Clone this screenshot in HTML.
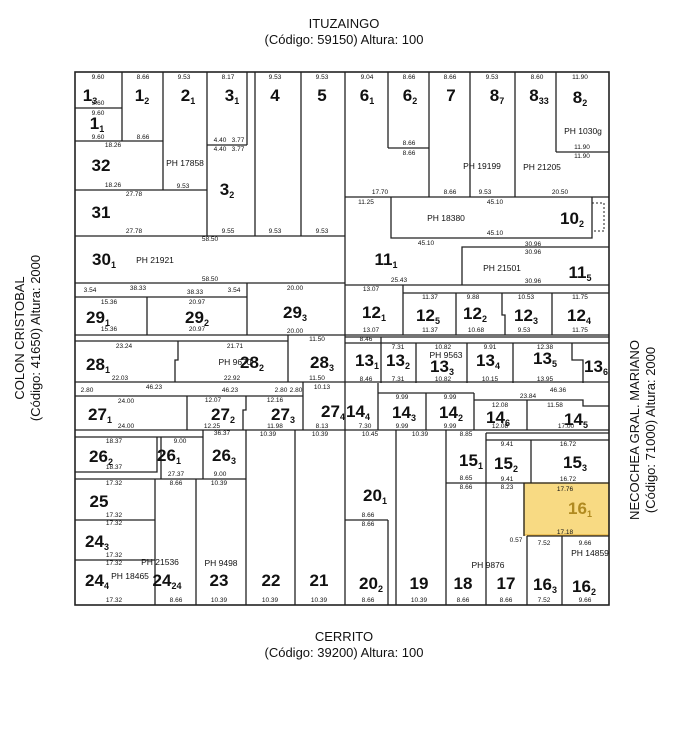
<!DOCTYPE html>
<html><head><meta charset="utf-8"><style>
html,body{margin:0;padding:0;background:#fff}
svg{display:block}
text{font-family:"Liberation Sans",sans-serif;fill:#111}
.h{font-size:13px;text-anchor:middle}
.l{font-size:17px;font-weight:bold;text-anchor:middle}
.l tspan{font-size:9px;font-weight:bold}
.d{font-size:6.5px;text-anchor:middle}
.p{font-size:8.5px;text-anchor:middle}
line,polyline,rect{stroke:#222;stroke-width:1.3;fill:none}
</style></head><body>
<svg width="687" height="736" viewBox="0 0 687 736" xmlns="http://www.w3.org/2000/svg">
<text class="h" x="344" y="28">ITUZAINGO</text>
<text class="h" x="344" y="44">(Código: 59150) Altura: 100</text>
<text class="h" x="344" y="641">CERRITO</text>
<text class="h" x="344" y="657">(Código: 39200) Altura: 100</text>
<text class="h" transform="translate(24,338) rotate(-90)">COLON CRISTOBAL</text>
<text class="h" transform="translate(40,338) rotate(-90)">(Código: 41650) Altura: 2000</text>
<text class="h" transform="translate(639,430) rotate(-90)">NECOCHEA GRAL. MARIANO</text>
<text class="h" transform="translate(655,430) rotate(-90)">(Código: 71000) Altura: 2000</text>

<rect x="524" y="483" width="85" height="52" style="fill:#f6cd5a;fill-opacity:.75;stroke:#e8b440"/>
<rect x="75" y="72" width="534" height="533" style="stroke-width:1.6"/>
<!-- top row -->
<line x1="75" y1="108" x2="122" y2="108"/>
<line x1="122" y1="72" x2="122" y2="141"/>
<line x1="75" y1="141" x2="163" y2="141"/>
<line x1="163" y1="72" x2="163" y2="190"/>
<line x1="75" y1="190" x2="207" y2="190"/>
<line x1="207" y1="72" x2="207" y2="236"/>
<line x1="207" y1="145" x2="247" y2="145"/>
<line x1="247" y1="72" x2="247" y2="145"/>
<line x1="255" y1="72" x2="255" y2="236"/>
<line x1="301" y1="72" x2="301" y2="236"/>
<line x1="75" y1="236" x2="345" y2="236"/>
<line x1="345" y1="72" x2="345" y2="605"/>
<line x1="388" y1="72" x2="388" y2="148"/>
<line x1="388" y1="148" x2="429" y2="148"/>
<line x1="429" y1="72" x2="429" y2="197"/>
<line x1="470" y1="72" x2="470" y2="197"/>
<line x1="515" y1="72" x2="515" y2="197"/>
<line x1="556" y1="72" x2="556" y2="152"/>
<line x1="556" y1="152" x2="609" y2="152"/>
<line x1="345" y1="197" x2="609" y2="197"/>
<polyline points="391,197 391,238 592,238 592,197"/>
<rect x="592" y="203" width="12" height="28" style="stroke-dasharray:2,2;stroke-width:1"/>
<polyline points="462,285 462,247 609,247"/>
<line x1="75" y1="283" x2="345" y2="283"/>
<line x1="345" y1="285" x2="609" y2="285"/>
<line x1="403" y1="293" x2="609" y2="293"/>
<line x1="403" y1="285" x2="403" y2="335"/>
<line x1="456" y1="293" x2="456" y2="335"/>
<polyline points="502,293 502,315 505,315 505,335"/>
<line x1="552" y1="293" x2="552" y2="335"/>
<!-- row 29 -->
<line x1="75" y1="297" x2="247" y2="297"/>
<line x1="147" y1="297" x2="147" y2="335"/>
<line x1="247" y1="283" x2="247" y2="335"/>
<line x1="75" y1="335" x2="609" y2="335"/>
<!-- row 28/13 -->
<line x1="75" y1="341" x2="288" y2="341"/>
<polyline points="178,341 178,360 175,360 175,382"/>
<line x1="288" y1="335" x2="288" y2="382"/>
<line x1="345" y1="337" x2="609" y2="337"/>
<line x1="345" y1="343" x2="609" y2="343"/>
<line x1="381" y1="337" x2="381" y2="383"/>
<line x1="416" y1="343" x2="416" y2="383"/>
<line x1="467" y1="343" x2="467" y2="383"/>
<line x1="513" y1="343" x2="513" y2="383"/>
<polyline points="572,343 572,360 583,360 583,383"/>
<line x1="75" y1="382" x2="609" y2="382"/>
<!-- row 27/14 -->
<line x1="75" y1="396" x2="303" y2="396"/>
<line x1="187" y1="396" x2="187" y2="430"/>
<polyline points="246,396 246,410 243,410 243,430"/>
<line x1="303" y1="382" x2="303" y2="430"/>
<line x1="378" y1="393" x2="474" y2="393"/>
<line x1="378" y1="383" x2="378" y2="430"/>
<line x1="426" y1="393" x2="426" y2="430"/>
<line x1="474" y1="393" x2="474" y2="430"/>
<polyline points="474,400 583,400 583,406 609,406"/>
<line x1="527" y1="400" x2="527" y2="430"/>
<line x1="75" y1="430" x2="609" y2="430"/>
<!-- row 26 -->
<line x1="75" y1="437" x2="203" y2="437"/>
<polyline points="157,437 157,472 75,472"/>
<line x1="75" y1="479" x2="246" y2="479"/>
<line x1="161" y1="437" x2="161" y2="479"/>
<line x1="203" y1="430" x2="203" y2="479"/>
<line x1="246" y1="430" x2="246" y2="605"/>
<line x1="295" y1="430" x2="295" y2="605"/>
<line x1="75" y1="520" x2="155" y2="520"/>
<line x1="75" y1="560" x2="155" y2="560"/>
<line x1="155" y1="479" x2="155" y2="605"/>
<line x1="196" y1="479" x2="196" y2="605"/>
<!-- 20/19/15 -->
<line x1="396" y1="430" x2="396" y2="605"/>
<line x1="345" y1="520" x2="388" y2="520"/>
<line x1="388" y1="520" x2="388" y2="605"/>
<line x1="446" y1="430" x2="446" y2="605"/>
<line x1="486" y1="433" x2="609" y2="433"/>
<line x1="486" y1="440" x2="609" y2="440"/>
<line x1="486" y1="433" x2="486" y2="605"/>
<line x1="531" y1="440" x2="531" y2="483"/>
<line x1="446" y1="483" x2="609" y2="483"/>
<line x1="524" y1="483" x2="524" y2="536"/>
<line x1="527" y1="536" x2="609" y2="536"/>
<line x1="527" y1="536" x2="527" y2="605"/>
<line x1="562" y1="536" x2="562" y2="605"/>

<!-- lot labels -->
<g>
<text class="l" x="90" y="101">1<tspan dy="3">3</tspan></text>
<text class="l" x="142" y="101">1<tspan dy="3">2</tspan></text>
<text class="l" x="188" y="101">2<tspan dy="3">1</tspan></text>
<text class="l" x="232" y="101">3<tspan dy="3">1</tspan></text>
<text class="l" x="275" y="101">4</text>
<text class="l" x="322" y="101">5</text>
<text class="l" x="367" y="101">6<tspan dy="3">1</tspan></text>
<text class="l" x="410" y="101">6<tspan dy="3">2</tspan></text>
<text class="l" x="451" y="101">7</text>
<text class="l" x="497" y="101">8<tspan dy="3">7</tspan></text>
<text class="l" x="539" y="101">8<tspan dy="3">33</tspan></text>
<text class="l" x="580" y="103">8<tspan dy="3">2</tspan></text>
<text class="l" x="97" y="129">1<tspan dy="3">1</tspan></text>
<text class="l" x="101" y="171">32</text>
<text class="l" x="101" y="218">31</text>
<text class="l" x="227" y="195">3<tspan dy="3">2</tspan></text>
<text class="l" x="572" y="224">10<tspan dy="3">2</tspan></text>
<text class="l" x="104" y="265">30<tspan dy="3">1</tspan></text>
<text class="l" x="386" y="265">11<tspan dy="3">1</tspan></text>
<text class="l" x="580" y="278">11<tspan dy="3">5</tspan></text>
<text class="l" x="98" y="323">29<tspan dy="3">1</tspan></text>
<text class="l" x="197" y="323">29<tspan dy="3">2</tspan></text>
<text class="l" x="295" y="318">29<tspan dy="3">3</tspan></text>
<text class="l" x="374" y="318">12<tspan dy="3">1</tspan></text>
<text class="l" x="428" y="321">12<tspan dy="3">5</tspan></text>
<text class="l" x="475" y="319">12<tspan dy="3">2</tspan></text>
<text class="l" x="526" y="321">12<tspan dy="3">3</tspan></text>
<text class="l" x="579" y="321">12<tspan dy="3">4</tspan></text>
<text class="l" x="98" y="370">28<tspan dy="3">1</tspan></text>
<text class="l" x="252" y="368">28<tspan dy="3">2</tspan></text>
<text class="l" x="322" y="368">28<tspan dy="3">3</tspan></text>
<text class="l" x="367" y="366">13<tspan dy="3">1</tspan></text>
<text class="l" x="398" y="366">13<tspan dy="3">2</tspan></text>
<text class="l" x="442" y="372">13<tspan dy="3">3</tspan></text>
<text class="l" x="488" y="366">13<tspan dy="3">4</tspan></text>
<text class="l" x="545" y="364">13<tspan dy="3">5</tspan></text>
<text class="l" x="596" y="372">13<tspan dy="3">6</tspan></text>
<text class="l" x="100" y="420">27<tspan dy="3">1</tspan></text>
<text class="l" x="223" y="420">27<tspan dy="3">2</tspan></text>
<text class="l" x="283" y="420">27<tspan dy="3">3</tspan></text>
<text class="l" x="333" y="417">27<tspan dy="3">4</tspan></text>
<text class="l" x="358" y="417">14<tspan dy="3">4</tspan></text>
<text class="l" x="404" y="418">14<tspan dy="3">3</tspan></text>
<text class="l" x="451" y="418">14<tspan dy="3">2</tspan></text>
<text class="l" x="498" y="423">14<tspan dy="3">6</tspan></text>
<text class="l" x="576" y="425">14<tspan dy="3">5</tspan></text>
<text class="l" x="101" y="462">26<tspan dy="3">2</tspan></text>
<text class="l" x="169" y="461">26<tspan dy="3">1</tspan></text>
<text class="l" x="224" y="461">26<tspan dy="3">3</tspan></text>
<text class="l" x="471" y="466">15<tspan dy="3">1</tspan></text>
<text class="l" x="506" y="469">15<tspan dy="3">2</tspan></text>
<text class="l" x="575" y="468">15<tspan dy="3">3</tspan></text>
<text class="l" x="99" y="507">25</text>
<text class="l" x="375" y="501">20<tspan dy="3">1</tspan></text>
<text class="l" x="580" y="514" style="fill:#b08a20">16<tspan dy="3">1</tspan></text>
<text class="l" x="97" y="547">24<tspan dy="3">3</tspan></text>
<text class="l" x="97" y="586">24<tspan dy="3">4</tspan></text>
<text class="l" x="167" y="586">24<tspan dy="3">24</tspan></text>
<text class="l" x="219" y="586">23</text>
<text class="l" x="271" y="586">22</text>
<text class="l" x="319" y="586">21</text>
<text class="l" x="371" y="589">20<tspan dy="3">2</tspan></text>
<text class="l" x="419" y="589">19</text>
<text class="l" x="463" y="589">18</text>
<text class="l" x="506" y="589">17</text>
<text class="l" x="545" y="590">16<tspan dy="3">3</tspan></text>
<text class="l" x="584" y="592">16<tspan dy="3">2</tspan></text>
</g>
<!-- PH labels -->
<g>
<text class="p" x="185" y="166">PH 17858</text>
<text class="p" x="482" y="169">PH 19199</text>
<text class="p" x="542" y="170">PH 21205</text>
<text class="p" x="583" y="134">PH 1030g</text>
<text class="p" x="446" y="221">PH 18380</text>
<text class="p" x="155" y="263">PH 21921</text>
<text class="p" x="502" y="271">PH 21501</text>
<text class="p" x="235" y="365">PH 9670</text>
<text class="p" x="446" y="358">PH 9563</text>
<text class="p" x="160" y="565">PH 21536</text>
<text class="p" x="221" y="566">PH 9498</text>
<text class="p" x="488" y="568">PH 9876</text>
<text class="p" x="130" y="579">PH 18465</text>
<text class="p" x="590" y="556">PH 14859</text>
</g>
<!-- dimension labels -->
<g class="d">
<text class="d" x="98" y="79">9.60</text><text class="d" x="143" y="79">8.66</text><text class="d" x="184" y="79">9.53</text><text class="d" x="228" y="79">8.17</text><text class="d" x="275" y="79">9.53</text><text class="d" x="322" y="79">9.53</text><text class="d" x="367" y="79">9.04</text><text class="d" x="409" y="79">8.66</text><text class="d" x="450" y="79">8.66</text><text class="d" x="492" y="79">9.53</text><text class="d" x="537" y="79">8.60</text><text class="d" x="580" y="79">11.90</text>
<text class="d" x="98" y="105">9.60</text><text class="d" x="98" y="115">9.60</text><text class="d" x="98" y="139">9.60</text><text class="d" x="143" y="139">8.66</text>
<text class="d" x="113" y="147">18.26</text><text class="d" x="113" y="187">18.26</text><text class="d" x="183" y="188">9.53</text>
<text class="d" x="134" y="196">27.78</text><text class="d" x="134" y="233">27.78</text><text class="d" x="228" y="233">9.55</text><text class="d" x="275" y="233">9.53</text><text class="d" x="322" y="233">9.53</text>
<text class="d" x="220" y="142">4.40</text><text class="d" x="238" y="142">3.77</text><text class="d" x="220" y="151">4.40</text><text class="d" x="238" y="151">3.77</text>
<text class="d" x="210" y="241">58.50</text><text class="d" x="210" y="281">58.50</text>
<text class="d" x="409" y="145">8.66</text><text class="d" x="409" y="155">8.66</text><text class="d" x="450" y="194">8.66</text><text class="d" x="485" y="194">9.53</text><text class="d" x="380" y="194">17.70</text><text class="d" x="560" y="194">20.50</text><text class="d" x="582" y="149">11.90</text><text class="d" x="582" y="158">11.90</text>
<text class="d" x="366" y="204">11.25</text><text class="d" x="495" y="204">45.10</text><text class="d" x="495" y="235">45.10</text><text class="d" x="426" y="245">45.10</text><text class="d" x="533" y="246">30.96</text><text class="d" x="533" y="254">30.96</text><text class="d" x="533" y="283">30.96</text><text class="d" x="399" y="282">25.43</text>
<text class="d" x="90" y="292">3.54</text><text class="d" x="138" y="290">38.33</text><text class="d" x="195" y="294">38.33</text><text class="d" x="234" y="292">3.54</text><text class="d" x="295" y="290">20.00</text><text class="d" x="295" y="333">20.00</text>
<text class="d" x="109" y="304">15.36</text><text class="d" x="109" y="331">15.36</text><text class="d" x="197" y="304">20.97</text><text class="d" x="197" y="331">20.97</text>
<text class="d" x="371" y="291">13.07</text><text class="d" x="371" y="332">13.07</text><text class="d" x="430" y="299">11.37</text><text class="d" x="430" y="332">11.37</text><text class="d" x="473" y="299">9.88</text><text class="d" x="476" y="332">10.68</text><text class="d" x="526" y="299">10.53</text><text class="d" x="524" y="332">9.53</text><text class="d" x="580" y="299">11.75</text><text class="d" x="580" y="332">11.75</text>
<text class="d" x="124" y="348">23.24</text><text class="d" x="120" y="380">22.03</text><text class="d" x="235" y="348">21.71</text><text class="d" x="232" y="380">22.92</text><text class="d" x="317" y="341">11.50</text><text class="d" x="317" y="380">11.50</text>
<text class="d" x="366" y="341">8.46</text><text class="d" x="366" y="381">8.46</text><text class="d" x="398" y="349">7.31</text><text class="d" x="398" y="381">7.31</text><text class="d" x="443" y="349">10.82</text><text class="d" x="443" y="381">10.82</text><text class="d" x="490" y="349">9.91</text><text class="d" x="490" y="381">10.15</text><text class="d" x="545" y="349">12.38</text><text class="d" x="545" y="381">13.95</text>
<text class="d" x="87" y="392">2.80</text><text class="d" x="154" y="389">46.23</text><text class="d" x="230" y="392">46.23</text><text class="d" x="281" y="392">2.80</text><text class="d" x="296" y="392">2.80</text><text class="d" x="322" y="389">10.13</text>
<text class="d" x="126" y="403">24.00</text><text class="d" x="126" y="428">24.00</text><text class="d" x="213" y="402">12.07</text><text class="d" x="212" y="428">12.25</text><text class="d" x="275" y="402">12.16</text><text class="d" x="275" y="428">11.98</text><text class="d" x="322" y="428">8.13</text>
<text class="d" x="365" y="428">7.30</text><text class="d" x="402" y="399">9.99</text><text class="d" x="402" y="428">9.99</text><text class="d" x="450" y="399">9.99</text><text class="d" x="450" y="428">9.99</text><text class="d" x="500" y="407">12.08</text><text class="d" x="500" y="428">12.08</text><text class="d" x="528" y="398">23.84</text><text class="d" x="558" y="392">46.36</text><text class="d" x="555" y="407">11.58</text><text class="d" x="566" y="428">17.00</text>
<text class="d" x="114" y="443">18.37</text><text class="d" x="114" y="469">18.37</text><text class="d" x="180" y="443">9.00</text><text class="d" x="176" y="476">27.37</text><text class="d" x="222" y="435">36.37</text><text class="d" x="220" y="476">9.00</text><text class="d" x="268" y="436">10.39</text><text class="d" x="320" y="436">10.39</text>
<text class="d" x="370" y="436">10.45</text><text class="d" x="420" y="436">10.39</text><text class="d" x="466" y="436">8.85</text><text class="d" x="507" y="446">9.41</text><text class="d" x="507" y="481">9.41</text><text class="d" x="568" y="446">16.72</text><text class="d" x="568" y="481">16.72</text><text class="d" x="466" y="480">8.65</text><text class="d" x="466" y="489">8.66</text><text class="d" x="507" y="489">8.23</text>
<text class="d" x="114" y="485">17.32</text><text class="d" x="114" y="517">17.32</text><text class="d" x="114" y="525">17.32</text><text class="d" x="114" y="557">17.32</text><text class="d" x="114" y="565">17.32</text><text class="d" x="114" y="602">17.32</text><text class="d" x="176" y="485">8.66</text><text class="d" x="219" y="485">10.39</text>
<text class="d" x="176" y="602">8.66</text><text class="d" x="219" y="602">10.39</text><text class="d" x="270" y="602">10.39</text><text class="d" x="319" y="602">10.39</text><text class="d" x="368" y="602">8.66</text><text class="d" x="419" y="602">10.39</text><text class="d" x="463" y="602">8.66</text><text class="d" x="506" y="602">8.66</text><text class="d" x="544" y="602">7.52</text><text class="d" x="585" y="602">9.66</text>
<text class="d" x="368" y="517">8.66</text><text class="d" x="368" y="526">8.66</text><text class="d" x="544" y="545">7.52</text><text class="d" x="585" y="545">9.66</text><text class="d" x="565" y="491">17.76</text><text class="d" x="565" y="534">17.18</text><text class="d" x="516" y="542">0.57</text>
</g>
</svg>
</body></html>
